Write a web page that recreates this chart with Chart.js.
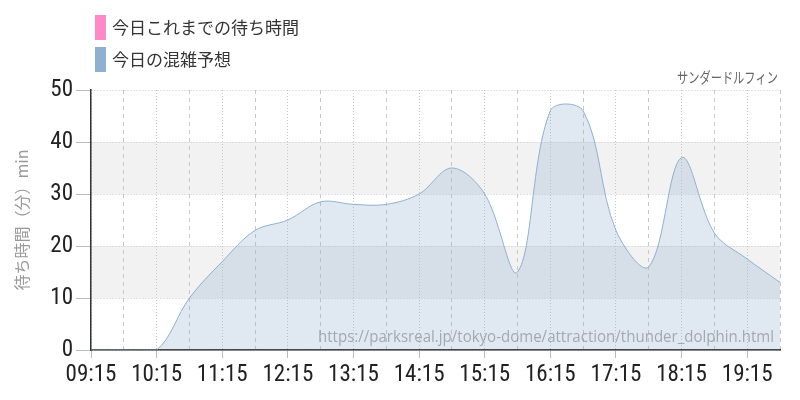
<!DOCTYPE html>
<html lang="ja">
<head>
<meta charset="utf-8">
<title>サンダードルフィン 待ち時間</title>
<script src="https://cdn.jsdelivr.net/npm/chart.js@4.4.1/dist/chart.umd.min.js"></script>
<style>
  html, body { margin: 0; padding: 0; background: #fff; }
  .chart-box { width: 800px; height: 400px; position: relative; }
</style>
</head>
<body>
<div class="chart-box">
  <canvas id="wait-chart"></canvas>
</div>
<script>
// Données (pas de 30 min)
const timeLabels = ['09:15', '09:45', '10:15', '10:45', '11:15', '11:45', '12:15', '12:45',
  '13:15', '13:45', '14:15', '14:45', '15:15', '15:45', '16:15', '16:45',
  '17:15', '17:45', '18:15', '18:45', '19:15', '19:45'];
const waitSoFar = []; // 今日これまでの待ち時間 : pas encore de valeurs
const forecast = [0, 0, 0, 10, 17, 23, 25, 28.5, 28, 28, 30, 35, 30, 15, 46, 46,
  23, 16, 37, 22.5, 17.5, 13];
const yTicks = [0, 10, 20, 30, 40, 50];
const bands = [[10, 20], [30, 40]];

const chartTitle = 'サンダードルフィン';
const sourceUrl = 'https://parksreal.jp/tokyo-dome/attraction/thunder_dolphin.html';

// Roboto en largeur condensée (passée via weight, Chart.js ne gère pas font-stretch)
const tickFont = { family: 'Roboto, sans-serif', size: 23, weight: 'condensed' };
const jpFont = '"Noto Sans CJK JP", "Noto Sans", sans-serif';

// Bandes grises en fond
const bandPlugin = {
  id: 'bands',
  beforeDraw(chart) {
    const { ctx, chartArea, scales } = chart;
    ctx.save();
    ctx.fillStyle = '#f2f2f2';
    bands.forEach(([lo, hi]) => {
      const top = scales.y.getPixelForValue(hi);
      const bottom = scales.y.getPixelForValue(lo);
      ctx.fillRect(chartArea.left, top, chartArea.right - chartArea.left, bottom - top);
    });
    ctx.restore();
  }
};

// Légende verticale, titre et URL
const decorPlugin = {
  id: 'decor',
  afterDraw(chart) {
    const { ctx, chartArea } = chart;
    ctx.save();

    chart.data.datasets.forEach((ds, i) => {
      const y = 15 + i * 32;
      ctx.fillStyle = ds.legendColor;
      ctx.fillRect(95, y, 11, 25);
      ctx.fillStyle = '#333';
      ctx.font = '17px ' + jpFont;
      ctx.textBaseline = 'middle';
      ctx.textAlign = 'left';
      ctx.fillText(ds.label, 112, y + 13);
    });

    ctx.fillStyle = '#666';
    ctx.font = '15px ' + jpFont;
    ctx.textAlign = 'right';
    ctx.textBaseline = 'middle';
    ctx.fillText(chartTitle, 778, 77, 101);

    ctx.fillStyle = 'rgba(120, 125, 130, 0.6)';
    ctx.font = '17px "Open Sans", sans-serif';
    ctx.textBaseline = 'alphabetic';
    ctx.fillText(sourceUrl, chartArea.right - 6, chartArea.bottom - 8, 456);

    ctx.restore();
  }
};

const ctx = document.getElementById('wait-chart').getContext('2d');
new Chart(ctx, {
  type: 'line',
  data: {
    labels: timeLabels,
    datasets: [{
      label: '今日これまでの待ち時間',
      data: waitSoFar,
      legendColor: '#ff8ac8',
      borderColor: '#ff8ac8',
      backgroundColor: 'rgba(255, 138, 200, 0.3)',
      pointRadius: 0,
      fill: 'origin'
    }, {
      label: '今日の混雑予想',
      data: forecast,
      legendColor: '#8fb0cf',
      borderColor: '#8fb0cf',
      borderWidth: 1,
      backgroundColor: 'rgba(143, 176, 207, 0.28)',
      pointRadius: 0,
      tension: 0.35,
      fill: 'origin'
    }]
  },
  options: {
    responsive: true,
    maintainAspectRatio: false,
    animation: false,
    layout: { padding: { top: 90, right: 20, left: 0, bottom: 0 } },
    plugins: {
      legend: { display: false },
      tooltip: { enabled: false }
    },
    scales: {
      x: {
        afterFit: (scale) => { scale.height = 50; },
        grid: {
          color: '#c8c8c8',
          lineWidth: 1,
          tickLength: 8,
          tickColor: (c) => (c.index % 2 === 0 ? '#bbb' : 'rgba(0,0,0,0)'),
          tickBorderDash: []
        },
        border: {
          color: '#222',
          width: 1.5,
          dash: (c) => (c.index === undefined ? [] : (c.index % 2 === 0 ? [1, 2] : [4, 4]))
        },
        ticks: {
          autoSkip: false,
          maxRotation: 0,
          padding: 3,
          color: '#222',
          font: tickFont,
          callback: (val, i) => (i % 2 === 0 ? timeLabels[i] : '')
        }
      },
      y: {
        min: 0,
        max: 50,
        afterFit: (scale) => { scale.width = 91; },
        afterBuildTicks: (scale) => { scale.ticks = yTicks.map(v => ({ value: v })); },
        grid: {
          color: '#c8c8c8',
          lineWidth: 1,
          tickLength: 15,
          tickColor: '#bbb',
          tickBorderDash: []
        },
        border: {
          color: '#333',
          width: 1.5,
          dash: (c) => (c.index === undefined ? [] : [1, 2])
        },
        ticks: {
          padding: 3,
          color: '#222',
          font: tickFont
        },
        title: {
          display: true,
          text: '待ち時間（分）min',
          color: '#999',
          font: { family: jpFont, size: 16 },
          padding: { top: 12, bottom: 0 }
        }
      }
    }
  },
  plugins: [bandPlugin, decorPlugin]
});
</script>
</body>
</html>
